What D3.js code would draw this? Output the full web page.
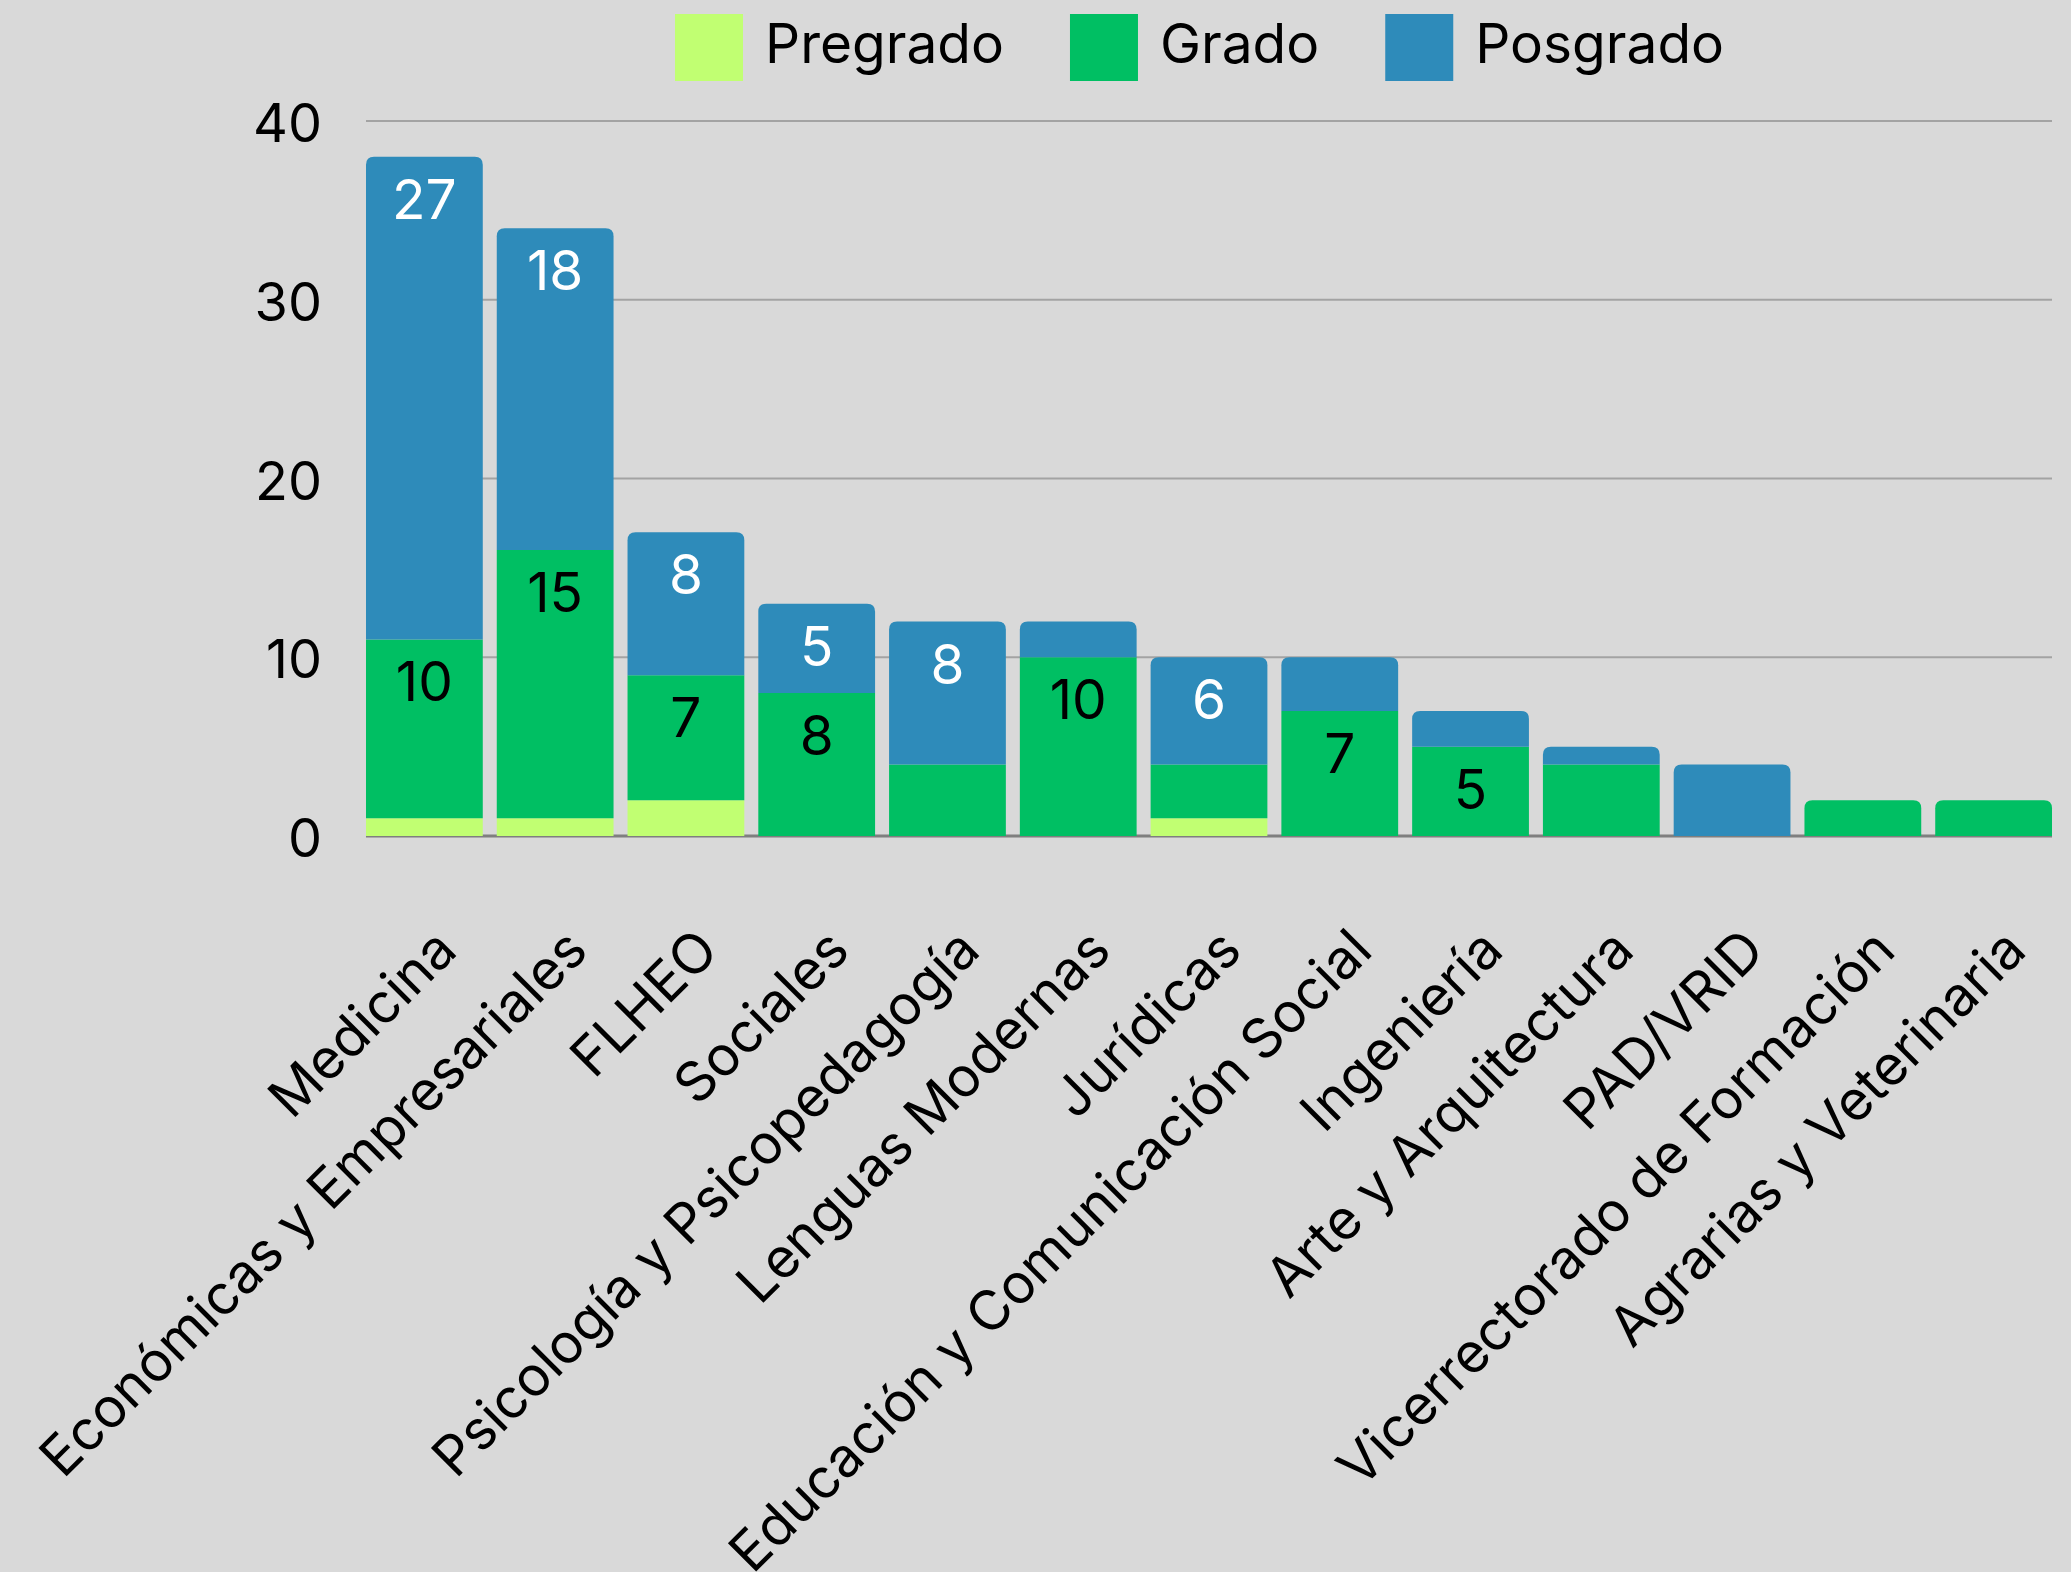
<!DOCTYPE html>
<html>
<head>
<meta charset="utf-8">
<script src="https://cdn.jsdelivr.net/npm/d3@7"></script>
<style>
  body { margin: 0; background: #d9d9d9; }
  text { font-family: Inter, "Noto Sans", sans-serif; fill: #000; }
</style>
</head>
<body>
<div id="chart"></div>
<script>
var svgWidth = 2071;
var svgHeight = 1572;

// categories and series
var categories = ["Medicina", "Económicas y Empresariales", "FLHEO", "Sociales",
  "Psicología y Psicopedagogía", "Lenguas Modernas", "Jurídicas",
  "Educación y Comunicación Social", "Ingeniería", "Arte y Arquitectura",
  "PAD/VRID", "Vicerrectorado de Formación", "Agrarias y Veterinaria"];
var pregrado = [1, 1, 2, 0, 0, 0, 1, 0, 0, 0, 0, 0, 0];
var grado    = [10, 15, 7, 8, 4, 10, 3, 7, 5, 4, 0, 2, 2];
var posgrado = [27, 18, 8, 5, 8, 2, 6, 3, 2, 1, 4, 0, 0];
var seriesNames = ["Pregrado", "Grado", "Posgrado"];
var seriesColors = ["#c1ff72", "#00bf63", "#2e8bba"];
var labelColors = ["#000", "#000", "#fff"];
var yTicks = [0, 10, 20, 30, 40];

var rows = categories.map(function(c, i) {
  return { cat: c, Pregrado: pregrado[i], Grado: grado[i], Posgrado: posgrado[i] };
});

var svg = d3.select("#chart").append("svg")
  .attr("width", svgWidth)
  .attr("height", svgHeight);

svg.append("rect").attr("width", svgWidth).attr("height", svgHeight).attr("fill", "#d9d9d9");

var x = d3.scaleBand()
  .domain(categories)
  .range([359, 2059])
  .paddingInner(0.107)
  .paddingOuter(0.0535);

var y = d3.scaleLinear()
  .domain([0, 40])
  .range([836, 121]);

var gridLeft = x(categories[0]);
var gridRight = x(categories[categories.length - 1]) + x.bandwidth();

// gridlines
svg.append("g").selectAll("line")
  .data(yTicks.filter(function(d) { return d > 0; }))
  .enter().append("line")
  .attr("x1", gridLeft).attr("x2", gridRight)
  .attr("y1", d => y(d)).attr("y2", d => y(d))
  .attr("stroke", "#a3a3a3")
  .attr("stroke-width", 2);

// baseline
svg.append("line")
  .attr("x1", gridLeft).attr("x2", gridRight)
  .attr("y1", y(0)).attr("y2", y(0))
  .attr("stroke", "#7f7f7f")
  .attr("stroke-width", 3);

// y tick labels
svg.append("g").selectAll("text")
  .data(yTicks)
  .enter().append("text")
  .attr("x", 322)
  .attr("y", d => y(d) + 21)
  .attr("text-anchor", "end")
  .attr("font-size", 54)
  .text(d => d);

var stack = d3.stack().keys(seriesNames);
var stacked = stack(rows);

// which series is the top one for each category
var topKey = rows.map(function(r) {
  var k = null;
  seriesNames.forEach(function(s) { if (r[s] > 0) k = s; });
  return k;
});

var radius = 8;
function segPath(x0, w, yTop, yBot, rounded) {
  if (!rounded) {
    return "M" + x0 + "," + yBot + "V" + yTop + "H" + (x0 + w) + "V" + yBot + "Z";
  }
  var r = Math.min(radius, (yBot - yTop));
  return "M" + x0 + "," + yBot +
    "V" + (yTop + r) +
    "Q" + x0 + "," + yTop + " " + (x0 + r) + "," + yTop +
    "H" + (x0 + w - r) +
    "Q" + (x0 + w) + "," + yTop + " " + (x0 + w) + "," + (yTop + r) +
    "V" + yBot + "Z";
}

var layers = svg.append("g").selectAll("g")
  .data(stacked)
  .enter().append("g")
  .attr("fill", (d, i) => seriesColors[i]);

layers.selectAll("path")
  .data(function(d) { return d.map(function(p, i) { return { key: d.key, p: p, i: i }; }); })
  .enter().append("path")
  .filter(d => d.p[1] > d.p[0])
  .attr("d", function(d) {
    return segPath(x(categories[d.i]), x.bandwidth(), y(d.p[1]), y(d.p[0]), topKey[d.i] === d.key);
  });

// value labels
stacked.forEach(function(layer, si) {
  svg.append("g").selectAll("text")
    .data(layer.filter(p => p[1] - p[0] >= 5))
    .enter().append("text")
    .attr("x", d => x(d.data.cat) + x.bandwidth() / 2)
    .attr("y", d => y(d[1]) + 62)
    .attr("text-anchor", "middle")
    .attr("font-size", 55)
    .style("fill", labelColors[si])
    .text(d => d[1] - d[0]);
});

// category labels
svg.append("g").selectAll("text")
  .data(categories)
  .enter().append("text")
  .attr("transform", d => `translate(${x(d) + x.bandwidth() / 2 + 35}, 953) rotate(-45)`)
  .attr("text-anchor", "end")
  .attr("font-size", 55)
  .text(d => d);

// legend
var legend = svg.append("g");
var lx = 675;
seriesNames.forEach(function(name, i) {
  legend.append("rect")
    .attr("x", lx).attr("y", 14)
    .attr("width", 68).attr("height", 67)
    .attr("fill", seriesColors[i]);
  var t = legend.append("text")
    .attr("x", lx + 90).attr("y", 63)
    .attr("font-size", 55)
    .text(name);
  lx += 90 + t.node().getComputedTextLength() + 66;
});
</script>
</body>
</html>
